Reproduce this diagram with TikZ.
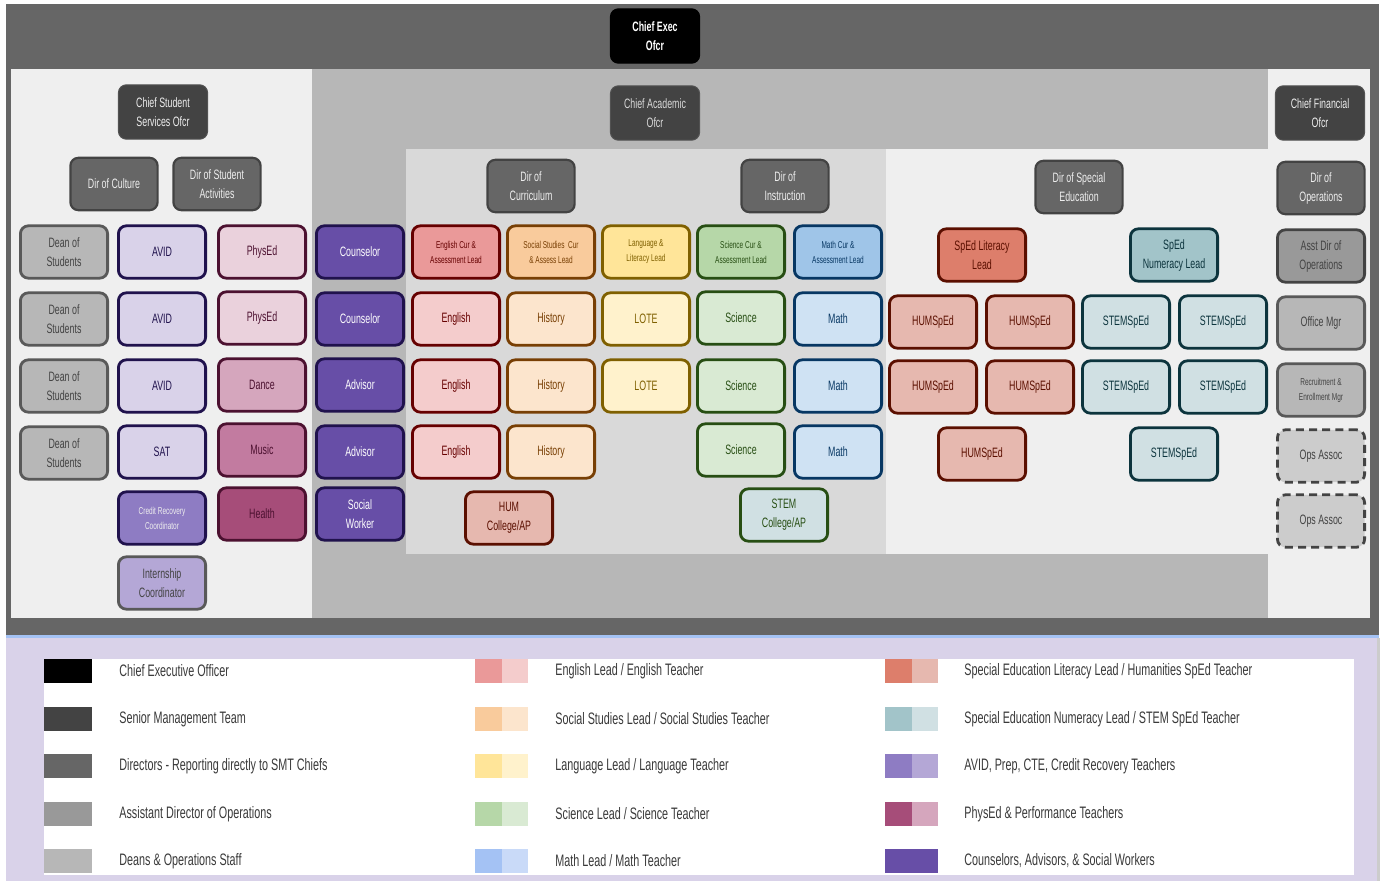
\documentclass[tikz,border=0pt]{standalone}
\usepackage{fontspec}
\setmainfont{Liberation Sans}[FakeStretch=0.65]
\definecolor{cblack}{HTML}{000000}
\definecolor{smt}{HTML}{434343}
\definecolor{dirc}{HTML}{666666}
\definecolor{asst}{HTML}{999999}
\definecolor{dean}{HTML}{B7B7B7}
\definecolor{deanB}{HTML}{595959}
\definecolor{opsF}{HTML}{CCCCCC}
\definecolor{enL}{HTML}{EA9999}\definecolor{enT}{HTML}{F4CCCC}\definecolor{enB}{HTML}{660000}
\definecolor{ssL}{HTML}{F9CB9C}\definecolor{ssT}{HTML}{FCE5CD}\definecolor{ssB}{HTML}{783F04}
\definecolor{laL}{HTML}{FFE599}\definecolor{laT}{HTML}{FFF2CC}\definecolor{laB}{HTML}{7F6000}
\definecolor{scL}{HTML}{B6D7A8}\definecolor{scT}{HTML}{D9EAD3}\definecolor{scB}{HTML}{274E13}
\definecolor{maL}{HTML}{9FC5E8}\definecolor{maT}{HTML}{CFE2F3}\definecolor{maB}{HTML}{073763}
\definecolor{maLg}{HTML}{A4C2F4}\definecolor{maTg}{HTML}{C9DAF8}
\definecolor{slL}{HTML}{DD7E6B}\definecolor{slT}{HTML}{E6B8AF}\definecolor{slB}{HTML}{5B0F00}
\definecolor{snL}{HTML}{A2C4C9}\definecolor{snT}{HTML}{D0E0E3}\definecolor{snB}{HTML}{0C343D}
\definecolor{avL}{HTML}{8E7CC3}\definecolor{avT}{HTML}{B4A7D6}\definecolor{avid}{HTML}{D9D2E9}\definecolor{avB}{HTML}{20124D}
\definecolor{peL}{HTML}{A64D79}\definecolor{peM}{HTML}{C27BA0}\definecolor{peT}{HTML}{D5A6BD}\definecolor{peF}{HTML}{EAD1DC}\definecolor{peB}{HTML}{4C1130}
\definecolor{cou}{HTML}{674EA7}
\definecolor{panel}{HTML}{EFEFEF}
\definecolor{midg}{HTML}{B7B7B7}
\definecolor{innerg}{HTML}{D9D9D9}
\definecolor{lav}{HTML}{D9D2E9}
\definecolor{bluel}{HTML}{A4C2F4}
\definecolor{ltxt}{HTML}{3A3A3A}
\definecolor{wtxt}{HTML}{EEEEEE}
\newcommand{\nfont}{\fontsize{6.8}{9.5}\selectfont}
\newcommand{\sfont}{\fontsize{5}{7.5}\selectfont}
\newcommand{\lfont}{\fontsize{8.3}{10}\selectfont}
\tikzset{
  base/.style={rounded corners=4pt, line width=1.4pt, minimum width=43.6pt, minimum height=26.2pt, inner sep=0.5pt, align=center, font=\nfont},
  col/.style n args={3}{base, fill=#1, draw=#2, text=#3},
  chief/.style={base, line width=0.5pt, minimum width=44.6pt, minimum height=27.2pt, fill=smt, draw=smt!92!white, text=wtxt},
  dirbox/.style={base, line width=1.1pt, fill=dirc, draw=smt, text=wtxt},
  deanbox/.style={col={dean}{deanB}{smt}},
  avidbox/.style={col={avid}{avB}{avB}},
  counbox/.style={col={cou}{avB}{white}},
  enlead/.style={col={enL}{enB}{enB}, font=\sfont},
  entch/.style={col={enT}{enB}{enB}},
  sslead/.style={col={ssL}{ssB}{ssB}, font=\sfont},
  sstch/.style={col={ssT}{ssB}{ssB}},
  lalead/.style={col={laL}{laB}{laB}, font=\sfont},
  latch/.style={col={laT}{laB}{laB}},
  sclead/.style={col={scL}{scB}{scB}, font=\sfont},
  sctch/.style={col={scT}{scB}{scB}},
  malead/.style={col={maL}{maB}{maB}, font=\sfont},
  match/.style={col={maT}{maB}{maB}},
  humbox/.style={col={slT}{slB}{slB}},
  stembox/.style={col={snT}{snB}{snB}},
  opsbox/.style={col={opsF}{smt}{smt}, dash pattern=on 4pt off 2.6pt},
  legtext/.style={anchor=west, font=\lfont, text=ltxt, inner sep=0pt}
}
\begin{document}
\begin{tikzpicture}[x=0.5pt,y=-0.5pt]
\useasboundingbox (0,0) rectangle (1385,881);
% backgrounds
\fill[white] (0,0) rectangle (1385,881);
\fill[dirc] (6,4) rectangle (1379,636);
\fill[lav] (6,638) rectangle (1379,881);
\fill[opsF] (1377,638) rectangle (1380,881);
\fill[bluel] (6,635) rectangle (1379,638);
\fill[panel] (11,69) rectangle (312,618);
\fill[midg] (312,69) rectangle (1268,618);
\fill[innerg] (406,149) rectangle (886,554);
\fill[panel] (886,149) rectangle (1268,554);
\fill[panel] (1268,69) rectangle (1370,618);
\fill[white] (44,659) rectangle (1354,875);

% chiefs
\node[chief, fill=cblack, draw=cblack, text=white, font=\nfont\bfseries] (ceo) at (655,36) {Chief Exec\\Ofcr};
\node[chief] (cso) at (163,112) {Chief Student\\Services Ofcr};
\node[chief, text=innerg] (cao) at (655,113) {Chief Academic\\Ofcr};
\node[chief] (cfo) at (1320,113) {Chief Financial\\Ofcr};

% directors
\node[dirbox] (dcult) at (114,184) {Dir of Culture};
\node[dirbox] (dstud) at (217,184) {Dir of Student\\Activities};
\node[dirbox] (dcurr) at (531,186) {Dir of\\Curriculum};
\node[dirbox] (dinst) at (785,186) {Dir of\\Instruction};
\node[dirbox] (dsped) at (1079,187) {Dir of Special\\Education};
\node[dirbox] (dops) at (1321,188) {Dir of\\Operations};

% left column: deans
\node[deanbox] (dean1) at (64,252) {Dean of\\Students};
\node[deanbox] (dean2) at (64,319) {Dean of\\Students};
\node[deanbox] (dean3) at (64,386) {Dean of\\Students};
\node[deanbox] (dean4) at (64,453) {Dean of\\Students};

% AVID column
\node[avidbox] (avid1) at (162,252) {AVID};
\node[avidbox] (avid2) at (162,319) {AVID};
\node[avidbox] (avid3) at (162,386) {AVID};
\node[avidbox] (sat) at (162,452) {SAT};
\node[col={avL}{avB}{wtxt}, font=\sfont] (credit) at (162,518) {Credit Recovery\\Coordinator};
\node[col={avT}{deanB}{smt}] (intern) at (162,583) {Internship\\Coordinator};

% PE column
\node[col={peF}{peB}{peB}] (pe1) at (262,252) {PhysEd};
\node[col={peF}{peB}{peB}] (pe2) at (262,318) {PhysEd};
\node[col={peT}{peB}{peB}] (dance) at (262,385) {Dance};
\node[col={peM}{peB}{peB}] (music) at (262,450) {Music};
\node[col={peL}{peB}{peB}] (health) at (262,514) {Health};

% counselors
\node[counbox] (coun1) at (360,252) {Counselor};
\node[counbox] (coun2) at (360,319) {Counselor};
\node[counbox] (adv1) at (360,385) {Advisor};
\node[counbox] (adv2) at (360,452) {Advisor};
\node[counbox] (social) at (360,514) {Social\\Worker};

% English
\node[enlead] (enlead) at (456,252) {English Cur \&\\Assessment Lead};
\node[entch] (en1) at (456,319) {English};
\node[entch] (en2) at (456,386) {English};
\node[entch] (en3) at (456,452) {English};
% Social studies
\node[sslead] (sslead) at (551,252) {Social Studies\ \ Cur\\\& Assess Lead};
\node[sstch] (ss1) at (551,319) {History};
\node[sstch] (ss2) at (551,386) {History};
\node[sstch] (ss3) at (551,452) {History};
% Language
\node[lalead] (lalead) at (646,252) {Language \&\\Literacy Lead};
\node[latch] (la1) at (646,319) {LOTE};
\node[latch] (la2) at (646,386) {LOTE};
% Science
\node[sclead] (sclead) at (741,252) {Science Cur \&\\Assessment Lead};
\node[sctch] (sc1) at (741,318) {Science};
\node[sctch] (sc2) at (741,386) {Science};
\node[sctch] (sc3) at (741,450) {Science};
% Math
\node[malead] (malead) at (838,252) {Math Cur \&\\Assessment Lead};
\node[match] (ma1) at (838,319) {Math};
\node[match] (ma2) at (838,386) {Math};
\node[match] (ma3) at (838,452) {Math};
% College/AP
\node[humbox] (humap) at (509,518) {HUM\\College/AP};
\node[col={snT}{scB}{scB}] (stemap) at (784,515) {STEM\\College/AP};

% SpEd
\node[col={slL}{slB}{slB}] (split) at (982,255) {SpEd Literacy\\Lead};
\node[col={snL}{snB}{snB}] (spnum) at (1174,255) {SpEd\\Numeracy Lead};
\node[humbox] (hum1) at (933,322) {HUMSpEd};
\node[humbox] (hum2) at (1030,322) {HUMSpEd};
\node[stembox] (stem1) at (1126,322) {STEMSpEd};
\node[stembox] (stem2) at (1223,322) {STEMSpEd};
\node[humbox] (hum3) at (933,387) {HUMSpEd};
\node[humbox] (hum4) at (1030,387) {HUMSpEd};
\node[stembox] (stem3) at (1126,387) {STEMSpEd};
\node[stembox] (stem4) at (1223,387) {STEMSpEd};
\node[humbox] (hum5) at (982,454) {HUMSpEd};
\node[stembox] (stem5) at (1174,454) {STEMSpEd};

% operations column
\node[col={asst}{smt}{smt}] (asstops) at (1321,256) {Asst Dir of\\Operations};
\node[deanbox] (office) at (1321,323) {Office Mgr};
\node[deanbox, font=\sfont] (recruit) at (1321,390) {Recruitment \&\\Enrollment Mgr};
\node[opsbox] (ops1) at (1321,456) {Ops Assoc};
\node[opsbox] (ops2) at (1321,521) {Ops Assoc};

% legend column 1
\fill[cblack] (44,659) rectangle (92,683);
\fill[smt] (44,707) rectangle (92,731);
\fill[dirc] (44,754) rectangle (92,778);
\fill[asst] (44,802) rectangle (92,826);
\fill[dean] (44,849) rectangle (92,873);
\node[legtext] (l1) at (119,671) {Chief Executive Officer};
\node[legtext] (l2) at (119,719) {Senior Management Team};
\node[legtext] (l3) at (119,766) {Directors - Reporting directly to SMT Chiefs};
\node[legtext] (l4) at (119,814) {Assistant Director of Operations};
\node[legtext] (l5) at (119,861) {Deans \& Operations Staff};

% legend column 2
\fill[enL] (475,659) rectangle (502,683); \fill[enT] (502,659) rectangle (528,683);
\fill[ssL] (475,707) rectangle (502,731); \fill[ssT] (502,707) rectangle (528,731);
\fill[laL] (475,754) rectangle (502,778); \fill[laT] (502,754) rectangle (528,778);
\fill[scL] (475,802) rectangle (502,826); \fill[scT] (502,802) rectangle (528,826);
\fill[maLg] (475,849) rectangle (502,873); \fill[maTg] (502,849) rectangle (528,873);
\node[legtext] (l6) at (555,671) {English Lead / English Teacher};
\node[legtext] (l7) at (555,719) {Social Studies Lead / Social Studies Teacher};
\node[legtext] (l8) at (555,766) {Language Lead / Language Teacher};
\node[legtext] (l9) at (555,814) {Science Lead / Science Teacher};
\node[legtext] (l10) at (555,861) {Math Lead / Math Teacher};

% legend column 3
\fill[slL] (885,659) rectangle (912,683); \fill[slT] (912,659) rectangle (938,683);
\fill[snL] (885,707) rectangle (912,731); \fill[snT] (912,707) rectangle (938,731);
\fill[avL] (885,754) rectangle (912,778); \fill[avT] (912,754) rectangle (938,778);
\fill[peL] (885,802) rectangle (912,826); \fill[peT] (912,802) rectangle (938,826);
\fill[cou] (885,849) rectangle (938,873);
\node[legtext] (l11) at (964,671) {Special Education Literacy Lead / Humanities SpEd Teacher};
\node[legtext] (l12) at (964,719) {Special Education Numeracy Lead / STEM SpEd Teacher};
\node[legtext] (l13) at (964,766) {AVID, Prep, CTE, Credit Recovery Teachers};
\node[legtext] (l14) at (964,814) {PhysEd \& Performance Teachers};
\node[legtext] (l15) at (964,861) {Counselors, Advisors, \& Social Workers};
\end{tikzpicture}
\end{document}
